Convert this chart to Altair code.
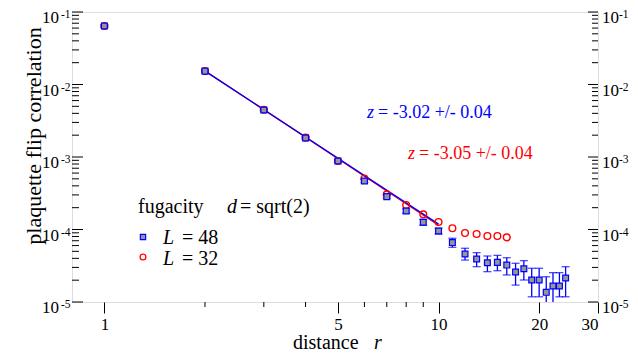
import altair as alt
import pandas as pd

# ---------------- data ----------------
r_blue = list(range(1, 25))
v_blue = [0.064, 0.0153, 0.00445, 0.00183, 0.00088, 0.000467, 0.000284, 0.000180,
          0.000126, 0.0000955, 0.000066, 0.0000459, 0.0000392, 0.0000348, 0.0000352,
          0.0000323, 0.0000259, 0.0000288, 0.0000201, 0.0000201, 0.0000136, 0.0000166,
          0.0000166, 0.0000214]
lo_blue = [0.0615, 0.0147, 0.00428, 0.00176, 0.000845, 0.000445, 0.000268, 0.000168,
           0.000114, 0.0000867, 0.0000568, 0.0000379, 0.0000307, 0.0000262, 0.0000270,
           0.0000236, 0.0000171, 0.0000201, 0.0000118, 0.0000118, 0.0000080, 0.0000085,
           0.0000118, 0.0000118]
hi_blue = [0.0665, 0.0159, 0.00462, 0.00190, 0.000915, 0.000490, 0.000300, 0.000192,
           0.000138, 0.000104, 0.0000757, 0.0000551, 0.0000479, 0.0000431, 0.0000440,
           0.0000408, 0.0000342, 0.0000372, 0.0000292, 0.0000292, 0.0000223, 0.0000254,
           0.0000254, 0.0000307]

r_red = list(range(1, 17))
v_red = [0.064, 0.0153, 0.00448, 0.00185, 0.00088, 0.000505, 0.000305, 0.000218,
         0.000162, 0.000127, 0.000104, 0.0000895, 0.0000867, 0.0000813, 0.0000813,
         0.0000780]

fit_r = [2, 10]
fit_blue = [0.0153, 0.0001185]
fit_red = [0.0155, 0.0001144]

x_labels = [1, 5, 10, 20, 30]
x_minor = [2, 3, 4, 6, 7, 8, 9]
y_major = [1e-5, 1e-4, 1e-3, 1e-2, 1e-1]
y_exps = ["-5", "-4", "-3", "-2", "-1"]
y_minor = [m * 10.0 ** k for k in range(-5, -1) for m in range(2, 10)]

# ---------------- styling ----------------
FONT = "Liberation Serif"
BLUE = "#0000ff"
RED = "#ff0000"
W, H = 526, 290

xs = alt.Scale(type="log", domain=[0.8, 30], nice=False)
ys = alt.Scale(type="log", domain=[1e-5, 0.1], nice=False)
xaxis = alt.Axis(values=x_labels, format="d", tickSize=11, tickColor="black",
                 tickWidth=1, labelFont=FONT, labelFontSize=17, labelColor="black",
                 labelBaseline="alphabetic", labelPadding=16, domain=False,
                 grid=False, title=None)

X = lambda f: alt.X(f"{f}:Q", scale=xs, axis=xaxis)
Y = lambda f: alt.Y(f"{f}:Q", scale=ys, axis=None)

df_blue = pd.DataFrame({"r": r_blue, "v": v_blue, "lo": lo_blue, "hi": hi_blue})
df_red = pd.DataFrame({"r": r_red, "v": v_red})
df_fb = pd.DataFrame({"r": fit_r, "v": fit_blue})
df_fr = pd.DataFrame({"r": fit_r, "v": fit_red})
one = pd.DataFrame({"a": [0]})

layers = []

# fit lines
layers.append(alt.Chart(df_fr).mark_line(color=RED, strokeWidth=1.3).encode(x=X("r"), y=Y("v")))
layers.append(alt.Chart(df_fb).mark_line(color=BLUE, strokeWidth=1.3).encode(x=X("r"), y=Y("v")))

# red circles
layers.append(alt.Chart(df_red).mark_point(shape="circle", size=45, filled=False,
                                            color=RED, strokeWidth=1.4, opacity=1)
              .encode(x=X("r"), y=Y("v")))

# blue error bars
layers.append(alt.Chart(df_blue).mark_rule(color=BLUE, strokeWidth=1.3, clip=True)
              .encode(x=X("r"), y=Y("lo"), y2="hi:Q"))
layers.append(alt.Chart(df_blue).mark_tick(color=BLUE, orient="horizontal", size=8,
                                            thickness=1.3, clip=True)
              .encode(x=X("r"), y=Y("lo")))
layers.append(alt.Chart(df_blue).mark_tick(color=BLUE, orient="horizontal", size=8,
                                            thickness=1.3, clip=True)
              .encode(x=X("r"), y=Y("hi")))

# blue squares
layers.append(alt.Chart(df_blue).mark_point(shape="square", size=34, filled=True,
                                             fill="#969696", stroke=BLUE, strokeWidth=1.2,
                                             opacity=1, fillOpacity=1)
              .encode(x=X("r"), y=Y("v")))

# x minor ticks
df_xm = pd.DataFrame({"r": x_minor})
layers.append(alt.Chart(df_xm).mark_rule(color="black", strokeWidth=1)
              .encode(x=X("r"), y=alt.value(H), y2=alt.value(H + 5)))

# y ticks (inward, both sides)
df_ym = pd.DataFrame({"v": y_minor})
df_yM = pd.DataFrame({"v": y_major, "base": ["10"] * 5, "exp": y_exps})
layers.append(alt.Chart(df_ym).mark_rule(color="black", strokeWidth=1)
              .encode(y=Y("v"), x=alt.value(0), x2=alt.value(7)))
layers.append(alt.Chart(df_ym).mark_rule(color="black", strokeWidth=1)
              .encode(y=Y("v"), x=alt.value(W - 6), x2=alt.value(W)))
layers.append(alt.Chart(df_yM).mark_rule(color="black", strokeWidth=1)
              .encode(y=Y("v"), x=alt.value(0), x2=alt.value(11)))
layers.append(alt.Chart(df_yM).mark_rule(color="black", strokeWidth=1)
              .encode(y=Y("v"), x=alt.value(W - 10), x2=alt.value(W)))

# y tick labels (10^k) left and right
for xb, xe, al in [(-13, -11, "right"), (W + 4, W + 21, "left")]:
    layers.append(alt.Chart(df_yM).mark_text(font=FONT, fontSize=17, color="black",
                                              align=al, baseline="alphabetic", dy=11)
                  .encode(y=Y("v"), x=alt.value(xb), text="base:N"))
    layers.append(alt.Chart(df_yM).mark_text(font=FONT, fontSize=11.5, color="black",
                                              align="left", baseline="alphabetic", dy=6)
                  .encode(y=Y("v"), x=alt.value(xe), text="exp:N"))


def txt(s, x, y, size, color="black", italic=False, angle=0, align="left",
        baseline="alphabetic"):
    kw = dict(font=FONT, fontSize=size, color=color, align=align, baseline=baseline)
    if italic:
        kw["fontStyle"] = "italic"
    if angle:
        kw["angle"] = angle
    return alt.Chart(one).mark_text(**kw).encode(x=alt.value(x), y=alt.value(y),
                                                 text=alt.value(s))


# axis titles
layers.append(txt("distance", 221, 337, 20))
layers.append(txt("r", 302, 337, 20, italic=True))
layers.append(txt("plaquette flip correlation", -38, 124, 22, angle=270,
                  align="center", baseline="middle"))

# fit annotations
layers.append(txt("z", 295, 106, 18, color=BLUE, italic=True))
layers.append(txt("= -3.02 +/- 0.04", 306, 106, 18, color=BLUE))
layers.append(txt("z", 336, 147, 18, color=RED, italic=True))
layers.append(txt("= -3.05 +/- 0.04", 347, 147, 18, color=RED))

# legend
layers.append(txt("fugacity", 66, 201, 20))
layers.append(txt("d", 155, 201, 20, italic=True))
layers.append(txt("= sqrt(2)", 168, 201, 20))
layers.append(alt.Chart(one).mark_point(shape="square", size=28, filled=True,
                                         fill="#969696", stroke=BLUE, strokeWidth=1.2,
                                         opacity=1)
              .encode(x=alt.value(71), y=alt.value(225)))
layers.append(alt.Chart(one).mark_point(shape="circle", size=34, filled=False,
                                         color=RED, strokeWidth=1.3, opacity=1)
              .encode(x=alt.value(71), y=alt.value(245)))
layers.append(txt("L", 91, 232, 20, italic=True))
layers.append(txt("= 48", 110, 232, 20))
layers.append(txt("L", 91, 253, 20, italic=True))
layers.append(txt("= 32", 110, 253, 20))

chart = (
    alt.layer(*layers)
    .properties(width=W, height=H,
                autosize=alt.AutoSizeParams(type="none"),
                padding={"left": 64, "top": 4, "right": 32, "bottom": 54})
    .configure_view(stroke="black", strokeWidth=2)
    .configure(background="white")
)

chart.save("out.html", embed_options={"renderer": "svg", "actions": False})
